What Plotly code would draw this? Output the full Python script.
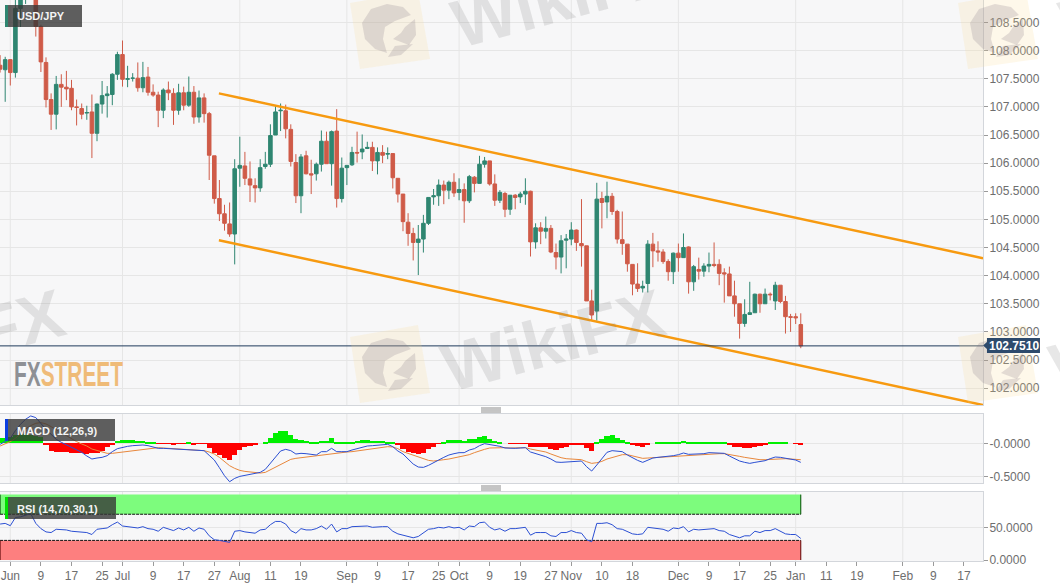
import pandas as pd
import plotly.graph_objects as go

# daily USD/JPY candles
opens = [
    107.74, 107.66, 107.84, 107.61, 108.75, 109.1, 109.2, 109.1, 108.43, 107.79,
    107.13, 106.87, 107.40, 107.35, 107.33, 107.0, 106.97, 106.89, 106.91, 106.53,
    107.05, 107.20, 107.22, 107.58, 107.93, 107.49, 107.51, 107.51, 107.34, 107.53,
    107.26, 107.21, 106.94, 107.3, 107.24, 106.94, 107.25, 107.03, 107.26, 106.82,
    107.16, 106.88, 106.13, 105.37, 105.1, 104.92, 104.74, 105.91, 105.95, 105.72,
    105.6, 105.56, 105.94, 105.98, 106.5, 106.93, 106.93, 106.6, 106.01, 105.42,
    106.13, 105.81, 105.81, 105.98, 106.39, 105.99, 106.57, 105.37, 105.92, 105.97,
    106.19, 106.2, 106.26, 106.28, 106.04, 106.19, 106.16, 106.17, 105.73, 105.45,
    104.95, 104.75, 104.59, 104.65, 104.93, 105.4, 105.42, 105.61, 105.52, 105.66,
    105.48, 105.53, 105.33, 105.75, 105.64, 105.98, 106.04, 105.63, 105.34, 105.46,
    105.18, 105.43, 105.4, 105.45, 105.5, 104.6, 104.85, 104.79, 104.84, 104.41,
    104.33, 104.63, 104.65, 104.81, 104.57, 104.53, 103.55, 103.37, 105.37, 105.31,
    105.41, 105.14, 104.64, 104.56, 104.2, 103.85, 103.78, 103.86, 104.56, 104.44,
    104.42, 104.25, 104.07, 104.4, 104.32, 104.51, 103.89, 104.11, 104.08, 104.17,
    104.2, 104.2, 104.05, 104.03, 103.64, 103.5, 103.15, 103.31, 103.34, 103.67,
    103.5, 103.67, 103.55, 103.83, 103.54, 103.27, 103.27, 103.13,
]
highs = [
    107.92, 107.89, 107.85, 108.9, 109.3, 109.4, 109.4, 109.2, 108.46, 107.88,
    107.24, 107.55, 107.58, 107.64, 107.48, 107.13, 107.06, 107.02, 107.22, 107.06,
    107.46, 107.37, 107.6, 107.98, 108.18, 107.73, 107.6, 107.79, 107.8, 107.71,
    107.4, 107.27, 107.33, 107.45, 107.33, 107.41, 107.36, 107.54, 107.37, 107.29,
    107.24, 106.91, 106.13, 105.7, 105.26, 105.3, 106.07, 106.47, 106.2, 106.03,
    105.73, 106.07, 106.2, 106.69, 107.02, 107.06, 107.04, 106.69, 106.16, 106.16,
    106.22, 106.06, 106.01, 106.58, 106.56, 106.58, 106.96, 106.1, 105.96, 106.29,
    106.56, 106.51, 106.38, 106.38, 106.28, 106.32, 106.28, 106.17, 105.73, 105.45,
    105.11, 104.85, 104.9, 105.08, 105.39, 105.54, 105.71, 105.69, 105.69, 105.82,
    105.73, 105.64, 105.79, 105.77, 106.13, 106.11, 106.04, 105.8, 105.52, 105.49,
    105.43, 105.45, 105.49, 105.73, 105.51, 104.93, 104.95, 105.05, 104.9, 104.57,
    104.72, 104.74, 104.95, 104.82, 105.36, 104.53, 103.75, 105.65, 105.49, 105.67,
    105.47, 105.17, 105.14, 104.56, 104.2, 104.22, 103.91, 104.63, 104.76, 104.61,
    104.47, 104.29, 104.41, 104.57, 104.75, 104.52, 104.19, 104.32, 104.22, 104.41,
    104.59, 104.29, 104.13, 104.16, 103.91, 103.5, 103.58, 103.89, 103.68, 103.68,
    103.77, 103.7, 103.89, 103.83, 103.64, 103.32, 103.33, 103.33,
]
lows = [
    107.61, 107.09, 107.38, 107.52, 108.42, 108.83, 109.0, 108.25, 107.62, 106.99,
    106.59, 106.60, 107.0, 107.12, 106.94, 106.67, 106.78, 106.77, 106.09, 106.39,
    106.88, 106.81, 107.03, 107.48, 107.36, 107.35, 107.45, 107.27, 107.26, 107.2,
    107.18, 106.64, 106.8, 107.12, 106.68, 106.86, 106.94, 107.0, 106.7, 106.72,
    106.72, 105.7, 105.28, 104.97, 104.8, 104.69, 104.2, 105.58, 105.61, 105.31,
    105.3, 105.49, 105.9, 105.93, 106.5, 106.57, 106.44, 105.94, 105.29, 105.11,
    105.8, 105.45, 105.69, 105.85, 105.99, 105.6, 105.21, 105.3, 105.61, 105.95,
    106.01, 106.07, 106.25, 105.86, 105.8, 106.0, 106.07, 105.55, 105.3, 104.79,
    104.53, 104.27, 104.01, 104.41, 104.9, 105.26, 105.24, 105.27, 105.36, 105.4,
    105.34, 104.94, 105.29, 105.48, 105.64, 105.92, 105.6, 105.24, 105.29, 105.04,
    105.08, 105.18, 105.29, 105.26, 104.34, 104.48, 104.56, 104.66, 104.4, 104.11,
    104.04, 104.13, 104.54, 104.44, 104.16, 103.55, 103.21, 103.2, 104.84, 105.02,
    105.08, 104.57, 104.37, 104.07, 103.65, 103.71, 103.7, 103.7, 104.15, 104.25,
    104.21, 103.91, 103.85, 104.07, 104.32, 103.68, 103.73, 103.93, 103.98, 104.06,
    104.15, 103.83, 103.52, 103.64, 103.27, 102.88, 103.09, 103.3, 103.34, 103.34,
    103.5, 103.56, 103.39, 103.51, 102.97, 103.0, 103.14, 102.71,
]
closes = [
    107.67, 107.84, 107.61, 108.75, 109.1, 109.2, 109.1, 108.43, 107.8, 107.13,
    106.87, 107.40, 107.35, 107.32, 107.0, 106.99, 106.87, 106.90, 106.53, 107.05,
    107.20, 107.23, 107.58, 107.93, 107.49, 107.5, 107.51, 107.34, 107.52, 107.26,
    107.21, 106.94, 107.3, 107.25, 106.94, 107.25, 107.03, 107.26, 106.82, 107.16,
    106.88, 106.14, 105.37, 105.1, 104.93, 104.74, 105.9, 105.96, 105.73, 105.61,
    105.56, 105.92, 105.98, 106.49, 106.91, 106.94, 106.61, 106.03, 105.42, 106.11,
    105.81, 105.79, 105.98, 106.39, 105.99, 106.56, 105.37, 105.91, 105.96, 106.19,
    106.18, 106.25, 106.28, 106.04, 106.19, 106.14, 106.17, 105.74, 105.45, 104.96,
    104.75, 104.59, 104.65, 104.93, 105.39, 105.42, 105.61, 105.52, 105.66, 105.47,
    105.53, 105.33, 105.76, 105.64, 105.98, 106.04, 105.63, 105.34, 105.48, 105.18,
    105.43, 105.39, 105.45, 105.5, 104.6, 104.85, 104.79, 104.84, 104.42, 104.33,
    104.62, 104.65, 104.81, 104.59, 104.53, 103.55, 103.3, 105.36, 105.3, 105.41,
    105.14, 104.65, 104.57, 104.21, 103.85, 103.77, 103.81, 104.56, 104.44, 104.42,
    104.25, 104.07, 104.4, 104.32, 104.5, 103.89, 104.16, 104.08, 104.17, 104.2,
    104.18, 104.04, 104.03, 103.64, 103.5, 103.15, 103.31, 103.34, 103.67, 103.5,
    103.67, 103.66, 103.83, 103.54, 103.27, 103.26, 103.25, 102.751,
]

macd_hist = [
    .08, .08, .09, .12, .14, .14, .13, .11, .09, -.03,
    -.12, -.125, -.135, -.135, -.14, -.15, -.15, -.155, -.15, -.14,
    -.11, -.05, -.025, .04, .045, .05, .05, .04, .035, .025,
    .015, -.005, -.005, -.01, -.02, -.005, -.01, .005, -.015, -.01,
    -.01, -.075, -.15, -.175, -.225, -.255, -.175, -.1, -.06, -.04,
    -.03, 0, .025, .085, .15, .185, .185, .125, .06, .045,
    .03, .01, .01, .04, .04, .075, .015, .01, .01, .025,
    .04, .05, .05, .04, .035, .03, .02, .01, -.025, -.08,
    -.125, -.15, -.16, -.14, -.09, -.06, -.005, .02, .05, .05,
    .05, .04, .06, .065, .09, .105, .07, .04, .02, 0,
    -.005, -.005, -.005, -.005, -.05, -.05, -.05, -.06, -.08, -.1,
    -.075, -.06, -.03, -.03, -.03, -.07, -.12, .005, .06, .11,
    .12, .08, .05, .02, -.02, -.035, -.06, -.02, 0, .015,
    .012, .01, .015, .02, .04, .01, .005, .005, .005, .01,
    .012, .008, .005, -.02, -.05, -.06, -.07, -.07, -.05, -.04,
    -.02, .005, .025, .02, .005, 0, -.005, -.03,
]
macd_line = [
    -.015, .025, .075, .19, .285, .36, .41, .385, .29, .21,
    .135, .06, .015, -.025, -.065, -.1, -.135, -.19, -.235, -.22,
    -.21, -.185, -.125, -.08, -.06, -.045, -.035, -.03, -.025, -.035,
    -.055, -.075, -.075, -.08, -.09, -.09, -.095, -.095, -.11, -.105,
    -.11, -.18, -.25, -.365, -.485, -.575, -.525, -.495, -.48, -.47,
    -.46, -.435, -.39, -.3, -.2, -.115, -.09, -.11, -.16, -.15,
    -.155, -.17, -.175, -.125, -.125, -.075, -.125, -.125, -.125, -.1,
    -.08, -.055, -.04, -.035, -.025, -.02, -.015, -.05, -.115, -.16,
    -.24, -.31, -.355, -.36, -.33, -.285, -.25, -.21, -.175, -.155,
    -.14, -.14, -.1, -.08, -.035, -.005, -.015, -.03, -.045, -.07,
    -.075, -.075, -.07, -.065, -.13, -.15, -.18, -.2, -.235, -.28,
    -.285, -.28, -.27, -.265, -.265, -.35, -.415, -.325, -.225, -.135,
    -.11, -.115, -.125, -.175, -.22, -.255, -.285, -.25, -.22, -.21,
    -.205, -.2, -.185, -.17, -.145, -.165, -.165, -.16, -.155, -.14,
    -.14, -.145, -.15, -.19, -.23, -.265, -.285, -.3, -.285, -.275,
    -.26, -.23, -.205, -.21, -.225, -.24, -.25, -.285,
]
macd_signal = [
    -.04, -.01, .025, .075, .15, .215, .265, .3, .31, .29,
    .25, .21, .16, .115, .065, .025, -.01, -.04, -.085, -.11,
    -.135, -.15, -.15, -.14, -.13, -.12, -.11, -.1, -.085, -.075,
    -.065, -.065, -.07, -.075, -.08, -.085, -.09, -.095, -.1, -.105,
    -.11, -.13, -.16, -.21, -.275, -.335, -.375, -.405, -.42, -.43,
    -.44, -.445, -.435, -.395, -.355, -.31, -.27, -.24, -.225, -.215,
    -.205, -.2, -.19, -.175, -.165, -.15, -.14, -.135, -.13, -.125,
    -.115, -.1, -.085, -.075, -.065, -.055, -.05, -.055, -.08, -.125,
    -.15, -.18, -.21, -.235, -.255, -.265, -.26, -.245, -.235, -.22,
    -.205, -.19, -.17, -.14, -.11, -.09, -.07, -.065, -.065, -.065,
    -.07, -.07, -.07, -.065, -.085, -.1, -.115, -.13, -.16, -.19,
    -.215, -.23, -.235, -.24, -.245, -.275, -.3, -.29, -.27, -.235,
    -.21, -.19, -.17, -.17, -.19, -.21, -.225, -.22, -.215, -.21,
    -.21, -.205, -.2, -.19, -.185, -.18, -.175, -.17, -.165, -.16,
    -.155, -.155, -.155, -.165, -.18, -.195, -.21, -.225, -.24, -.245,
    -.245, -.24, -.23, -.225, -.23, -.235, -.24, -.245,
]
rsi = [
    55, 56, 52.5, 65, 66, 68, 71, 56, 48, 43,
    42, 47, 47, 46, 44, 43, 42, 42, 39, 47,
    48, 49, 54, 58, 52, 51, 51, 49, 51, 48,
    47, 44, 50, 48, 45, 49, 46, 50, 44, 49,
    47, 37, 31, 30, 29, 27, 44, 45, 43, 42,
    41, 46, 47, 54, 59, 59, 55, 45, 41, 48,
    46, 46, 48, 52, 47, 55, 43, 48, 48, 51,
    51, 52, 52, 50, 51, 51, 51, 44, 40, 38,
    36, 34, 36, 42, 47, 48, 50, 49, 51, 49,
    50, 46, 52, 51, 57, 58, 50, 46, 48, 44,
    48, 48, 49, 50, 38, 42, 42, 42, 37, 36,
    42, 42, 45, 42, 41, 31, 28, 56, 56, 57,
    54, 48, 47, 44, 40, 39, 40, 50, 49, 48,
    47, 44, 49, 48, 51, 43, 47, 46, 47, 48,
    48, 45, 44, 39, 37, 34, 37, 37, 44, 42,
    45, 45, 48, 44, 40, 39, 39, 33,
]

last_price = 102.751

# channel drawn on the chart (candle position, price)
channel_pos = [42.9, 192.73]
channel_upper = [107.24, 104.31]
channel_lower = [104.63, 101.70]

tick_dates = [
    "2020-06-01", "2020-06-09", "2020-06-17", "2020-06-25", "2020-07-01", "2020-07-09", "2020-07-17", "2020-07-27",
    "2020-08-03", "2020-08-11", "2020-08-19", "2020-09-01", "2020-09-09", "2020-09-17", "2020-09-25", "2020-10-01",
    "2020-10-09", "2020-10-19", "2020-10-27", "2020-11-02", "2020-11-10", "2020-11-18", "2020-12-01", "2020-12-09",
    "2020-12-17", "2020-12-25", "2021-01-01", "2021-01-11", "2021-01-19", "2021-02-01", "2021-02-09", "2021-02-17",
]
tick_labels = [
    "Jun", "9", "17", "25", "Jul", "9", "17", "27", "Aug", "11", "19", "Sep", "9", "17", "25", "Oct",
    "9", "19", "27", "Nov", "10", "18", "Dec", "9", "17", "25", "Jan", "11", "19", "Feb", "9", "17",
]
price_ticks = [102, 102.5, 103, 103.5, 104, 104.5, 105, 105.5, 106, 106.5, 107, 107.5, 108, 108.5]

W, H = 1060, 587
FONT = "Liberation Sans"
GRID = "#e6e6e6"
BORDER = "#d3d6db"
TICK_TEXT = "#6e6e6e"
UP = "#2f8671"
DOWN = "#cf5b48"


def px(x):
    return x / W


def py(y):
    return 1 - y / H


days = pd.bdate_range("2020-05-28", periods=200)
pos = list(range(len(opens)))
tick_pos = [days.get_loc(pd.Timestamp(d)) for d in tick_dates]
month_pos = [p for p, lab in zip(tick_pos, tick_labels) if not lab.isdigit()]
x_range = [-0.02, 192.73]

fig = go.Figure()

fig.add_trace(go.Candlestick(
    x=pos, open=opens, high=highs, low=lows, close=closes,
    increasing={"line": {"color": UP, "width": 1}, "fillcolor": UP},
    decreasing={"line": {"color": DOWN, "width": 1}, "fillcolor": DOWN},
    whiskerwidth=0, xaxis="x", yaxis="y", hoverinfo="skip", showlegend=False,
))
for levels in (channel_upper, channel_lower):
    fig.add_trace(go.Scatter(
        x=channel_pos, y=levels, mode="lines", line={"color": "#f79a10", "width": 2.5},
        xaxis="x", yaxis="y", hoverinfo="skip", showlegend=False,
    ))
fig.add_trace(go.Scatter(
    x=x_range, y=[last_price, last_price], mode="lines", line={"color": "#1f3b5c", "width": 1},
    xaxis="x", yaxis="y", hoverinfo="skip", showlegend=False,
))

fig.add_trace(go.Bar(
    x=pos, y=macd_hist, width=1, marker={"color": ["#00f000" if v >= 0 else "#ff0000" for v in macd_hist], "line": {"width": 0}},
    xaxis="x2", yaxis="y2", hoverinfo="skip", showlegend=False,
))
fig.add_trace(go.Scatter(
    x=pos, y=macd_signal, mode="lines", line={"color": "#e8873c", "width": 1},
    xaxis="x2", yaxis="y2", hoverinfo="skip", showlegend=False,
))
fig.add_trace(go.Scatter(
    x=pos, y=macd_line, mode="lines", line={"color": "#2b4fd3", "width": 1},
    xaxis="x2", yaxis="y2", hoverinfo="skip", showlegend=False,
))
fig.add_trace(go.Scatter(
    x=pos, y=rsi, mode="lines", line={"color": "#2b4fd3", "width": 1},
    xaxis="x3", yaxis="y3", hoverinfo="skip", showlegend=False,
))

shapes = []

# vertical grid only at month starts, in all three panes
for mp in month_pos:
    for xr, yr in (("x", "y"), ("x2", "y2"), ("x3", "y3")):
        shapes.append({"type": "line", "xref": xr, "yref": yr + " domain", "x0": mp, "x1": mp, "y0": 0, "y1": 1,
                       "line": {"color": GRID, "width": 1}, "layer": "below"})

# RSI overbought / oversold bands
band_end = pos[-1]
for y0, y1, fill, edge, dash_y in ((70, 100, "#7dfc7d", "#004d00", 70), (0, 30, "#fd7f7f", "#600000", 30)):
    shapes.append({"type": "rect", "xref": "x3", "yref": "y3", "x0": 0, "x1": band_end, "y0": y0, "y1": y1,
                   "fillcolor": fill, "line": {"width": 0}, "layer": "below"})
    shapes.append({"type": "line", "xref": "x3", "yref": "y3", "x0": 0, "x1": band_end, "y0": dash_y, "y1": dash_y,
                   "line": {"color": "#111111", "width": 1, "dash": "3px,1px"}, "layer": "below"})
    for x_edge in (0, band_end):
        shapes.append({"type": "line", "xref": "x3", "yref": "y3", "x0": x_edge, "x1": x_edge, "y0": y0, "y1": y1,
                       "line": {"color": edge, "width": 1}, "layer": "below"})


def paper_rect(x0, y0, x1, y1, fill):
    return {"type": "rect", "xref": "paper", "yref": "paper", "x0": px(x0), "x1": px(x1), "y0": py(y1), "y1": py(y0),
            "fillcolor": fill, "line": {"width": 0}, "layer": "above"}


def paper_path(points, fill):
    d = "M " + " L ".join(f"{px(x):.4f},{py(y):.4f}" for x, y in points) + " Z"
    return {"type": "path", "xref": "paper", "yref": "paper", "path": d, "fillcolor": fill,
            "line": {"width": 0}, "layer": "above"}


# watermark badges: yellow plate with a rough bird's head in three pieces
bird_parts = [
    [(-27, -8), (-18, -22), (-2, -27), (14, -24), (22, -16), (6, -10), (-4, -4), (-6, 8), (-2, 22), (-14, 18), (-24, 8)],
    [(26, -12), (27, 4), (20, 14), (4, 8), (12, 2), (16, -4)],
    [(-1, 26), (6, 15), (24, 13), (12, 24)],
]
for dx, dy in ((0, 0), (608, 0), (0, -334), (608, -334)):
    shapes.append(paper_path([(350 + dx, 337 + dy), (418 + dx, 325 + dy), (430 + dx, 393 + dy), (360 + dx, 403 + dy)],
                             "rgba(250,222,150,0.2)"))
    for part in bird_parts:
        shapes.append(paper_path([(389 + dx + a, 365 + dy + b) for a, b in part], "rgba(130,120,130,0.22)"))

# legend boxes
legend_boxes = [("USD/JPY", 5, 82, 5, UP), ("MACD (12,26,9)", 5, 115, 419, "#0a3ee0"), ("RSI (14,70,30,1)", 5, 116, 497, "#00e000")]
annotations = []
for text, x0, x1, y0, bar in legend_boxes:
    shapes.append(paper_rect(x0, y0, x1, y0 + 22, "rgba(55,55,55,0.8)"))
    shapes.append(paper_rect(x0, y0, x0 + 3, y0 + 22, bar))
    annotations.append({"xref": "paper", "yref": "paper", "x": px(15), "y": py(y0 + 11.5), "xanchor": "left", "yanchor": "middle",
                        "text": f"<b>{text}</b>", "showarrow": False, "font": {"family": FONT, "size": 11, "color": "#f4f4f4"}})

# pane grips
for y in (408, 486):
    for off in (0, 2, 4):
        shapes.append({"type": "line", "xref": "paper", "yref": "paper", "x0": px(481), "x1": px(501),
                       "y0": py(y + off), "y1": py(y + off), "line": {"color": "#8a8a8a", "width": 1}, "layer": "above"})

# last price flag
shapes.append(paper_path([(983, 345.5), (987, 342), (987, 338), (1040, 338), (1040, 353), (987, 353), (987, 349)], "#2d4a6c"))
annotations.append({"xref": "paper", "yref": "paper", "x": px(1013.5), "y": py(346), "xanchor": "center", "yanchor": "middle",
                    "text": "<b>102.7510</b>", "showarrow": False, "font": {"family": FONT, "size": 12, "color": "#ffffff"}})

# WikiFX watermark text
for wx, wy in ((553, 340), (-47, 340), (1161, 340), (563, -4), (1171, -4)):
    annotations.append({"xref": "paper", "yref": "paper", "x": px(wx), "y": py(wy), "xanchor": "center", "yanchor": "middle",
                        "text": "<b>WikiFX</b>", "showarrow": False, "textangle": -15,
                        "font": {"family": FONT, "size": 68, "color": "rgba(120,120,120,0.18)"}})

# FXStreet logo
annotations.append({"xref": "paper", "yref": "paper", "x": px(12), "y": py(373.5), "xanchor": "left", "yanchor": "middle",
                    "text": "<b><span style='color:#8e9095'>FX</span><span style='color:#efbb78'>STREET</span></b>",
                    "showarrow": False, "font": {"family": FONT, "size": 36}})

# page margin off, logo squeezed to its narrow look
post_js = """
document.body.style.margin = '0';
document.querySelectorAll('.annotation-text').forEach(function (el) {
    if (el.textContent === 'FXSTREET') {
        var b = el.getBBox();
        el.setAttribute('transform', 'translate(' + b.x + ',0) scale(' + (109 / b.width) + ',1) translate(' + (-b.x) + ',0)');
    }
});
"""


def x_axis(domain_anchor, labels=False):
    ax = {"domain": [0, 983 / W], "range": x_range, "anchor": domain_anchor, "showgrid": False, "zeroline": False,
          "showline": True, "mirror": True, "linecolor": BORDER, "rangeslider": {"visible": False},
          "showticklabels": False, "ticks": "", "automargin": False}
    if labels:
        ax.update(tickmode="array", tickvals=tick_pos, ticktext=tick_labels, showticklabels=True, ticks="outside",
                  ticklen=4, tickcolor="#9a9a9a", ticklabelstandoff=0, tickfont={"family": FONT, "size": 12, "color": TICK_TEXT})
    return ax


def y_axis(domain, yrange, ticks, anchor):
    return {"domain": domain, "range": yrange, "anchor": anchor, "side": "right", "tickmode": "array", "tickvals": ticks,
            "tickformat": ".4f", "showgrid": True, "gridcolor": GRID, "zeroline": False, "showline": True, "mirror": True,
            "linecolor": BORDER, "ticks": "outside", "ticklen": 4, "tickcolor": "#9a9a9a", "ticklabelstandoff": -1,
            "automargin": False, "tickfont": {"family": FONT, "size": 12, "color": TICK_TEXT}}


fig.update_layout(
    width=W, height=H, margin={"l": 0, "r": 0, "t": 0, "b": 0, "pad": 0},
    paper_bgcolor="#ffffff", plot_bgcolor="#f7f7f8", bargap=0, boxgap=0.3, boxgroupgap=0, showlegend=False,
    xaxis=x_axis("y"), xaxis2=x_axis("y2"), xaxis3=x_axis("y3", labels=True),
    yaxis=y_axis([py(405), 1], [101.70, 108.90], price_ticks, "x"),
    yaxis2=y_axis([py(483), py(414)], [-0.594, 0.439], [0, -0.5], "x2"),
    yaxis3=y_axis([py(561), py(492)], [-1.5, 104], [0, 50], "x3"),
    shapes=shapes, annotations=annotations,
)
fig.layout.yaxis2.ticktext = ["-0.0000", "-0.5000"]

fig.write_html("out.html", post_script=post_js, config={"displayModeBar": False})
